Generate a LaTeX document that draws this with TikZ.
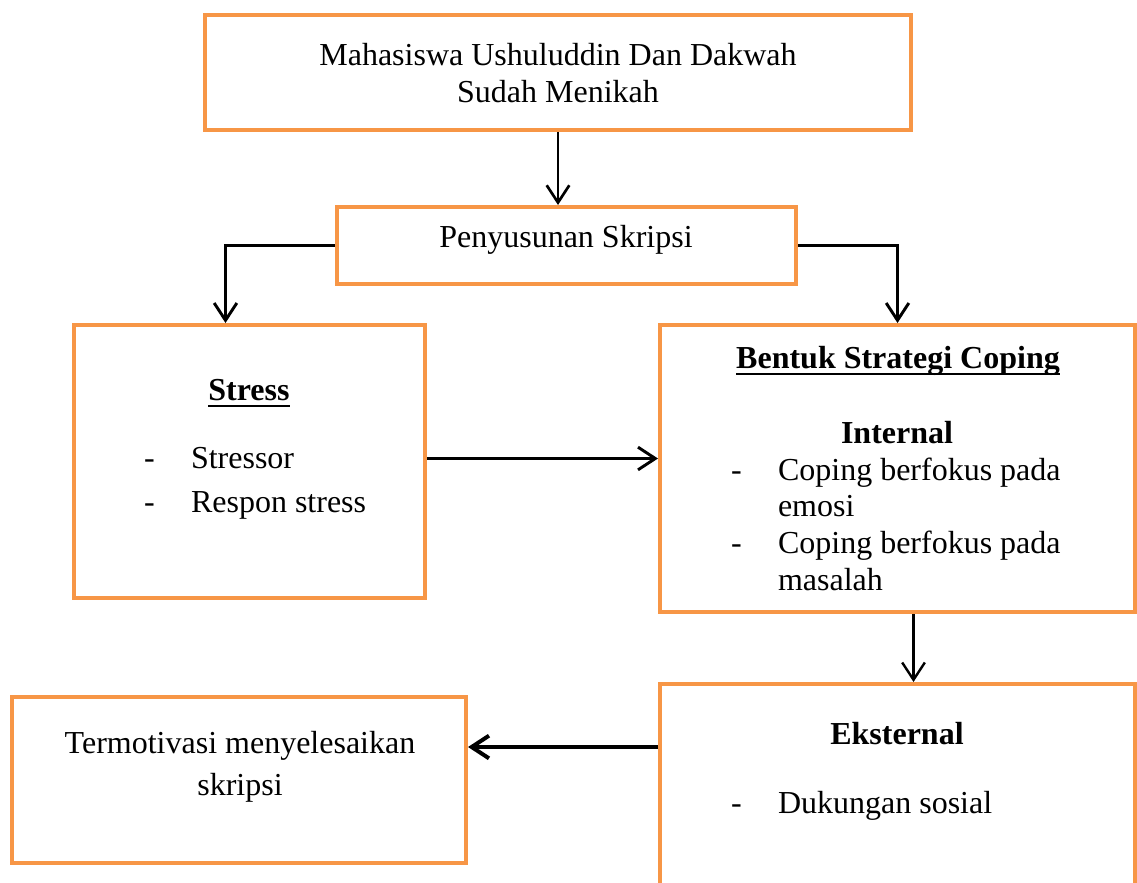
\documentclass[tikz,border=0pt]{standalone}
\usepackage{fontspec}
\setmainfont{Liberation Serif}
\usetikzlibrary{arrows.meta,fit,calc}
\definecolor{boxorange}{RGB}{247,150,70}
\begin{document}
\begin{tikzpicture}[x=0.75pt,y=-0.75pt,
  box/.style={draw=boxorange,line width=3pt,inner sep=0pt},
  txt/.style={inner sep=0pt,outer sep=0pt,font=\fontsize{24}{28}\selectfont},
  btxt/.style={inner sep=0pt,outer sep=0pt,font=\fontsize{24}{28}\selectfont\bfseries},
  arr/.style={draw=black,line width=2.2pt,-{Straight Barb[length=13pt,width=17pt]}},
  link/.style={draw=black,line width=2.2pt},
  uline/.style={draw=black,line width=1.6pt}]
\useasboundingbox (0,0) rectangle (1137,882);
\clip (0,0) rectangle (1137,882);
\fill[white] (0,0) rectangle (1137,882);

% boxes
\node[box,fit={(205,15) (911,130)}] (top) {};
\node[box,fit={(337,207) (796,284)}] (pen) {};
\node[box,fit={(74,325) (425,598)}] (stress) {};
\node[box,fit={(660,325) (1135,612)}] (bentuk) {};
\node[box,fit={(660,684) (1135,940)}] (eks) {};
\node[box,fit={(12,697) (466,863)}] (term) {};

% texts
\node[txt,anchor=base] (t1) at (558,65) {Mahasiswa Ushuluddin Dan Dakwah};
\node[txt,anchor=base] (t2) at (558,102) {Sudah Menikah};
\node[txt,anchor=base] (penT) at (566,247) {Penyusunan Skripsi};

\node[btxt,anchor=base] (stressT) at (249,400) {Stress};
\draw[uline] ($(stressT.base west)+(0,6)$) -- ($(stressT.base east)+(0,6)$);
\node[txt,anchor=base west] (d1) at (144,468) {-};
\node[txt,anchor=base west] (s1) at (191,468) {Stressor};
\node[txt,anchor=base west] (d2) at (144,512) {-};
\node[txt,anchor=base west] (s2) at (191,512) {Respon stress};

\node[btxt,anchor=base] (bT) at (898,368) {Bentuk Strategi Coping};
\draw[uline] ($(bT.base west)+(0,6)$) -- ($(bT.base east)+(0,6)$);
\node[btxt,anchor=base] (intT) at (897,443) {Internal};
\node[txt,anchor=base west] (d3) at (731,480) {-};
\node[txt,anchor=base west] (c1) at (778,480) {Coping berfokus pada};
\node[txt,anchor=base west] (c2) at (778,516) {emosi};
\node[txt,anchor=base west] (d4) at (731,553) {-};
\node[txt,anchor=base west] (c3) at (778,553) {Coping berfokus pada};
\node[txt,anchor=base west] (c4) at (778,590) {masalah};

\node[btxt,anchor=base] (eksT) at (897,744) {Eksternal};
\node[txt,anchor=base west] (d5) at (731,813) {-};
\node[txt,anchor=base west] (e1) at (778,813) {Dukungan sosial};

\node[txt,anchor=base] (term1) at (240,753) {Termotivasi menyelesaikan};
\node[txt,anchor=base] (term2) at (240,795) {skripsi};

% connectors
\draw[arr,line width=2pt] (top.south) -- (top.south |- pen.north);
\coordinate (lturn) at ($(stress.north)+(-24,0)$);
\draw[arr] (pen.west) -| (lturn);
\draw[arr] (pen.east) -| (bentuk.north);
\coordinate (sm) at ($(stress.east)+(0,-3)$);
\draw[arr] (sm) -- (sm -| bentuk.west);
\coordinate (bd) at ($(bentuk.south)+(16,0)$);
\draw[arr,line width=1.8pt] (bd) -- (bd |- eks.north);
\coordinate (tm) at ($(term.east)+(0,-33)$);
\draw[arr,line width=3pt] (tm -| eks.west) -- (tm);
\end{tikzpicture}
\end{document}
